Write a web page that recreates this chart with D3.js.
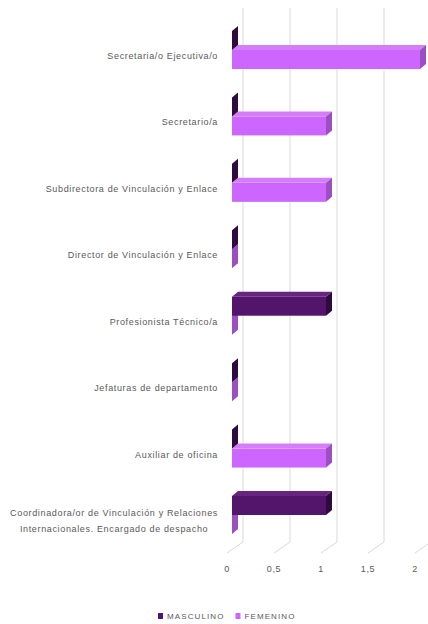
<!DOCTYPE html>
<html>
<head>
<meta charset="utf-8">
<script src="https://cdn.jsdelivr.net/npm/d3@7"></script>
<style>
  body { margin: 0; background: #fff; }
  svg { display: block; font-family: "Liberation Sans", Arial, sans-serif; }
</style>
</head>
<body>
<div id="chart"></div>
<script>
const categories = [
  'Secretaria/o Ejecutiva/o',
  'Secretario/a',
  'Subdirectora de Vinculación y Enlace',
  'Director de Vinculación y Enlace',
  'Profesionista Técnico/a',
  'Jefaturas de departamento',
  'Auxiliar de oficina',
  'Coordinadora/or de Vinculación y Relaciones Internacionales. Encargado de despacho'
];
const masculino = [0, 0, 0, 0, 1, 0, 0, 1];
const femenino  = [2, 1, 1, 0, 0, 0, 1, 0];
const ticks = [0, 0.5, 1, 1.5, 2];
const tickLabels = ['0', '0,5', '1', '1,5', '2'];
const seriesNames = ['MASCULINO', 'FEMENINO'];

const W = 428, H = 624;
const dx = 6, dy = -5;          // bar depth
const back = { x: 11, y: 0 };   // back wall offset
const floorY = 542;

const svg = d3.select('#chart').append('svg')
  .attr('width', W).attr('height', H);

const x = d3.scaleLinear().domain([0, 2]).range([232, 420]);
const y = d3.scalePoint().domain(categories).range([56, 521]);

const colors = {
  MASCULINO: { front: '#53146b', top: '#662680', side: '#2f0a3f' },
  FEMENINO:  { front: '#cc66ff', top: '#d57df9', side: '#9b4fc3' }
};

// back wall gridlines and floor
const grid = svg.append('g');
ticks.forEach(t => {
  const xb = x(t) + back.x;
  grid.append('line')
    .attr('x1', xb).attr('x2', xb)
    .attr('y1', 8).attr('y2', floorY)
    .attr('stroke', '#d9d9d9').attr('stroke-width', 1);
  grid.append('line')
    .attr('x1', xb).attr('y1', floorY)
    .attr('x2', xb - 16).attr('y2', floorY + 11)
    .attr('stroke', '#d9d9d9').attr('stroke-width', 1);
});

// x tick labels
svg.append('g').selectAll('text')
  .data(ticks)
  .join('text')
  .attr('x', d => x(d) - 5)
  .attr('y', 572)
  .attr('text-anchor', 'middle')
  .attr('font-size', 9)
  .attr('letter-spacing', 0.6)
  .attr('fill', '#595959')
  .text((d, i) => tickLabels[i]);

// 3d bar
const drawBar = (g, v, y0, y1, c) => {
  const x0 = x(0), x1 = x(v);
  g.append('rect')
    .attr('x', x0).attr('y', y0)
    .attr('width', x1 - x0).attr('height', y1 - y0)
    .attr('fill', c.front);
  g.append('path')
    .attr('d', d3.line()([[x0, y0], [x0 + dx, y0 + dy], [x1 + dx, y0 + dy], [x1, y0]]))
    .attr('fill', c.top);
  g.append('path')
    .attr('d', d3.line()([[x1, y0], [x1 + dx, y0 + dy], [x1 + dx, y1 + dy], [x1, y1]]))
    .attr('fill', c.side);
};

const bars = svg.append('g');
categories.forEach((cat, i) => {
  const c = y(cat);
  const g = bars.append('g');
  drawBar(g, femenino[i], c - 6, c + 13, colors.FEMENINO);
  drawBar(g, masculino[i], c - 25, c - 6, colors.MASCULINO);
});

// category labels
const labelRight = 218;
const maxLine = 212;
const labels = svg.append('g');
categories.forEach(cat => {
  const t = labels.append('text')
    .attr('font-size', 9)
    .attr('letter-spacing', 0.65)
    .attr('fill', '#595959')
    .attr('y', y(cat) + 3);
  const probe = t.text(cat);
  if (probe.node().getComputedTextLength() <= maxLine) {
    t.attr('x', labelRight).attr('text-anchor', 'end');
    return;
  }
  // wrap into lines
  const words = cat.split(' ');
  const lines = [];
  let cur = [];
  t.text('');
  words.forEach(w => {
    t.text([...cur, w].join(' '));
    if (t.node().getComputedTextLength() > maxLine && cur.length) {
      lines.push(cur.join(' '));
      cur = [w];
    } else cur.push(w);
  });
  lines.push(cur.join(' '));
  t.text('');
  let widest = 0;
  lines.forEach(l => {
    t.text(l);
    widest = Math.max(widest, t.node().getComputedTextLength());
  });
  t.text('');
  const cx = labelRight - widest / 2;
  t.attr('text-anchor', 'middle');
  lines.forEach((l, j) => {
    t.append('tspan')
      .attr('x', cx)
      .attr('y', y(cat) - 5 + (j - (lines.length - 1) / 2) * 16 + 8)
      .text(l);
  });
});

// legend
const legend = svg.append('g').attr('transform', 'translate(158,618)');
let lx = 0;
seriesNames.forEach(name => {
  const item = legend.append('g').attr('transform', `translate(${lx},0)`);
  item.append('rect')
    .attr('x', 0).attr('y', -5)
    .attr('width', 5).attr('height', 6)
    .attr('fill', colors[name].front);
  const txt = item.append('text')
    .attr('x', 9).attr('y', 1)
    .attr('font-size', 8)
    .attr('letter-spacing', 1.1)
    .attr('fill', '#595959')
    .text(name);
  lx += 9 + txt.node().getComputedTextLength() + 11;
});
</script>
</body>
</html>
